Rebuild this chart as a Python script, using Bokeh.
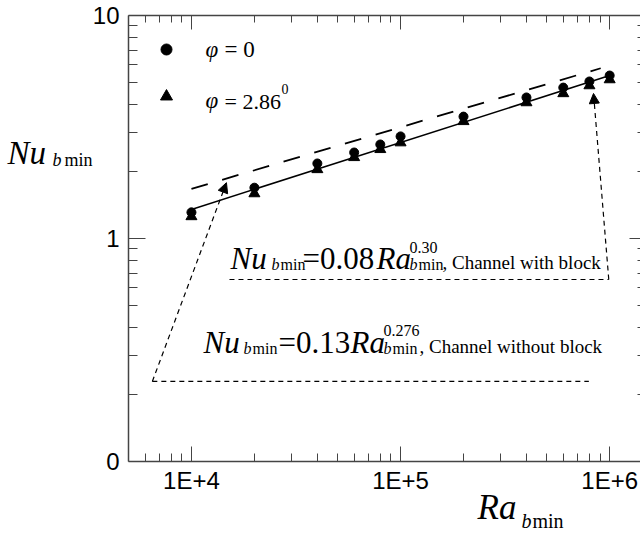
import math
from bokeh.plotting import figure
from bokeh.models import LogAxis, FixedTicker, Arrow, NormalHead, Label
from bokeh.embed import file_html
from bokeh.resources import INLINE

# ---------------- data ----------------
ra = [1e4, 2e4, 4e4, 6e4, 8e4, 1e5, 2e5, 4e5, 6e5, 8e5, 1e6]
nu_phi0 = [1.31, 1.69, 2.17, 2.43, 2.64, 2.87, 3.52, 4.29, 4.75, 5.06, 5.38]
nu_phi286 = [1.255, 1.59, 2.04, 2.31, 2.51, 2.69, 3.35, 4.07, 4.47, 4.85, 5.16]

# correlation lines (end points)
with_block_x = [1e4, 1e6]
with_block_y = [1.35, 5.38]
without_block_x = [1e4, 9.06e5]
without_block_y = [1.67, 5.8]

# annotation guide lines / arrows
lower_line_x = [6500, 7.95e5]
lower_line_y = [0.2285, 0.2285]
upper_line_x = [15200, 9.9e5]
upper_line_y = [0.655, 0.655]
arrow1 = (6500, 0.2285, 14700, 1.78)
arrow2 = (9.9e5, 0.655, 8.37e5, 4.47)

x_major = [1e4, 1e5, 1e6]
x_major_labels = ["1E+4", "1E+5", "1E+6"]
y_major = [0.1, 1, 10]
y_major_labels = ["0", "1", "10"]

# axis extents (data)
XA0, XA1 = 5000, 1.5e6
YA0, YA1 = 0.1, 10

# ---------------- layout ----------------
W, H = 640, 534
# pixel box of the axes inside the picture
BL, BT, BR, BB = 128, 15, 646, 461
DX = (BR - BL) / math.log10(XA1 / XA0)   # px per decade
DY = (BB - BT) / math.log10(YA1 / YA0)

def lx(px):
    return math.log10(XA0) + (px - BL) / DX

def ly(py):
    return math.log10(YA1) - (py - BT) / DY

def to_data(px, py):
    return 10 ** lx(px), 10 ** ly(py)

p = figure(width=W, height=H, x_axis_type="log", y_axis_type="log",
           x_range=(10 ** lx(0), 10 ** lx(W)), y_range=(10 ** ly(H), 10 ** ly(0)),
           output_backend="svg", toolbar_location=None,
           min_border_left=0, min_border_top=0, min_border_right=0, min_border_bottom=0)
p.grid.visible = False
p.outline_line_color = None
p.background_fill_color = "white"
p.border_fill_color = "white"

x_minor = [m * 1000 for m in range(6, 10)] + \
          [m * 10 ** d for d in (4, 5, 6) for m in range(2, 10)]
y_minor = [m * 10 ** d for d in (-1, 0) for m in range(2, 10)]

AX = "#444444"

def style(ax, major_in, minor_in, labels=True):
    ax.axis_line_color = AX
    ax.axis_line_width = 1.5
    ax.major_tick_line_color = AX
    ax.minor_tick_line_color = AX
    ax.major_tick_in = major_in
    ax.major_tick_out = 0
    ax.minor_tick_in = minor_in
    ax.minor_tick_out = 0
    if labels:
        ax.major_label_text_font = "Liberation Sans"
        ax.major_label_text_font_size = "24px"
        ax.major_label_text_color = "black"
    else:
        ax.major_label_text_font_size = "1px"
        ax.major_label_text_color = None
        ax.major_label_standoff = 0

xa = p.xaxis[0]
xa.ticker = FixedTicker(ticks=x_major, minor_ticks=x_minor)
xa.major_label_overrides = dict(zip(x_major, x_major_labels))
style(xa, 15, 8)
xa.major_label_standoff = 5
xa.fixed_location = YA0
xa.bounds = (XA0, XA1)

ya = p.yaxis[0]
ya.ticker = FixedTicker(ticks=y_major, minor_ticks=y_minor)
ya.major_label_overrides = dict(zip(y_major, y_major_labels))
style(ya, 17, 9)
ya.major_label_standoff = 9
ya.fixed_location = XA0
ya.bounds = (YA0, YA1)

top = LogAxis(ticker=FixedTicker(ticks=x_major, minor_ticks=x_minor),
              fixed_location=YA1, bounds=(XA0, XA1))
style(top, 14, 7, labels=False)
p.add_layout(top, "above")

right = LogAxis(ticker=FixedTicker(ticks=y_major, minor_ticks=y_minor),
                fixed_location=XA1, bounds=(YA0, YA1))
style(right, 17, 9, labels=False)
p.add_layout(right, "right")

# ---------------- marks ----------------
p.line(without_block_x, without_block_y, line_color="black", line_width=1.8, line_dash="17 15")
p.line(with_block_x, with_block_y, line_color="black", line_width=1.5)
p.scatter(ra, nu_phi286, marker="triangle", size=11, fill_color="black", line_color="black")
p.scatter(ra, nu_phi0, marker="circle", size=9, fill_color="black", line_color="black")

p.line(lower_line_x, lower_line_y, line_color="black", line_width=1.2, line_dash="5 4")
p.line(upper_line_x, upper_line_y, line_color="black", line_width=1.2, line_dash="5 4")
for (x0, y0, x1, y1) in (arrow1, arrow2):
    p.add_layout(Arrow(x_start=x0, y_start=y0, x_end=x1, y_end=y1,
                       line_color="black", line_width=1.2, line_dash="5 4",
                       end=NormalHead(size=10, fill_color="black", line_color="black")))

# ---------------- text ----------------
def txt(px, py, s, size, italic=False, font="Liberation Serif"):
    # py is the wanted baseline; compensate the renderer's baseline offset
    x, y = to_data(px, py - 0.33 * size)
    p.add_layout(Label(x=x, y=y, text=s, text_font=font,
                       text_font_size=f"{size}px",
                       text_font_style="italic" if italic else "normal",
                       text_align="left", text_baseline="alphabetic",
                       text_color="black"))

# legend
lgx, lgy = to_data(166, 49)
p.scatter([lgx], [lgy], marker="circle", size=11, fill_color="black", line_color="black")
lgx, lgy = to_data(166, 96)
p.scatter([lgx], [lgy], marker="triangle", size=12, fill_color="black", line_color="black")
txt(205, 57, "\u03c6", 23, italic=True)
txt(224, 57, "= 0", 23)
txt(205, 108, "\u03c6", 23, italic=True)
txt(224, 108, "= 2.86", 22)
txt(281, 93, "0", 14)

# y axis label
txt(7, 163, "Nu", 33, italic=True)
txt(52, 165, "b", 18, italic=True)
txt(64, 165, "min", 18)

# x axis label
txt(477, 519, "Ra", 35, italic=True)
txt(521, 527, "b", 20, italic=True)
txt(532, 527, "min", 20)

# upper equation
txt(230, 268, "Nu", 31, italic=True)
txt(271, 269, "b", 16, italic=True)
txt(280, 269, "min", 16)
txt(302, 268, "=0.08", 31)
txt(376, 268, "Ra", 31, italic=True)
txt(409, 252, "0.30", 16)
txt(409, 269, "b", 16, italic=True)
txt(418, 269, "min", 16)
txt(442, 268, ", Channel with block", 19)

# lower equation
txt(203, 352, "Nu", 31, italic=True)
txt(243, 353, "b", 16, italic=True)
txt(252, 353, "min", 16)
txt(278, 352, "=0.13", 31)
txt(350, 352, "Ra", 31, italic=True)
txt(383, 335, "0.276", 16)
txt(383, 353, "b", 16, italic=True)
txt(392, 353, "min", 16)
txt(419, 352, ", Channel without block", 19)

open("out.html", "w").write(file_html(p, INLINE))
